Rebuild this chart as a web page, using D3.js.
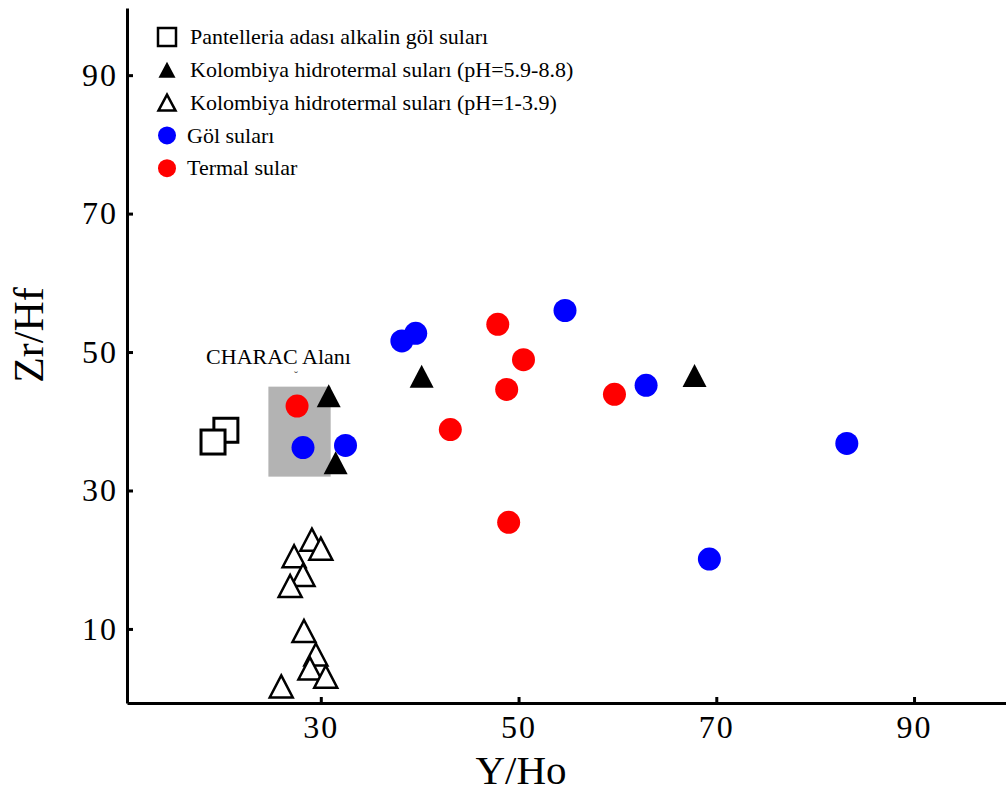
<!DOCTYPE html>
<html>
<head>
<meta charset="utf-8">
<script src="https://cdn.jsdelivr.net/npm/d3@7"></script>
<style>
  body { margin: 0; background: #fff; }
  text { font-family: "Liberation Serif", "Times New Roman", serif; }
</style>
</head>
<body>
<script>
var width = 1006;
var height = 794;

// data (Y/Ho, Zr/Hf)
var pantelleria = [[20.4, 38.7], [19.1, 37.0]];
var kolombiyaNotr = [[30.8, 43.7], [31.5, 34.0], [40.2, 46.5], [67.8, 46.6]];
var kolombiyaAsit = [
  [29.1, 22.9], [30.0, 21.6], [27.3, 20.5], [28.2, 17.8], [26.9, 16.2],
  [28.3, 9.7], [29.5, 6.3], [28.9, 4.3], [30.5, 3.1], [26.0, 1.7]
];
var golSulari = [
  [38.2, 51.6], [39.6, 52.7], [54.7, 56.0], [28.2, 36.2],
  [32.5, 36.5], [62.9, 45.2], [83.2, 36.8], [69.3, 20.1]
];
var termalSular = [
  [27.6, 42.2], [47.9, 54.0], [50.5, 48.9], [48.8, 44.6],
  [43.1, 38.8], [59.7, 43.9], [49.0, 25.4]
];
var characArea = {x0: 24.7, x1: 31.0, y0: 32.0, y1: 45.0};

var xTicks = [30, 50, 70, 90];
var yTicks = [10, 30, 50, 70, 90];

var legendLabels = [
  "Pantelleria adası alkalin göl suları",
  "Kolombiya hidrotermal suları (pH=5.9-8.8)",
  "Kolombiya hidrotermal suları (pH=1-3.9)",
  "Göl suları",
  "Termal sular"
];

var svg = d3.select("body").append("svg")
    .attr("width", width)
    .attr("height", height);

var x = d3.scaleLinear().domain([10.4, 99.3]).range([127, 1006]);
var y = d3.scaleLinear().domain([-0.7, 99.7]).range([703, 8]);

// triangle with its bounding box centred on 0,0
function triangle(w, h) {
    var p = d3.path();
    p.moveTo(0, -h / 2);
    p.lineTo(w / 2, h / 2);
    p.lineTo(-w / 2, h / 2);
    p.closePath();
    return p.toString();
}

// CHARAC area
svg.append("rect")
    .attr("x", x(characArea.x0))
    .attr("y", y(characArea.y1))
    .attr("width", x(characArea.x1) - x(characArea.x0))
    .attr("height", y(characArea.y0) - y(characArea.y1))
    .attr("fill", "#b3b3b3");

svg.append("text")
    .attr("x", x(18.4))
    .attr("y", y(48.3))
    .attr("font-size", "22px")
    .text("CHARAC Alanı");
svg.append("text")
    .attr("x", x(27.3))
    .attr("y", y(45.9))
    .attr("font-size", "12px")
    .attr("fill", "#666")
    .text("˘");

// squares (second one drawn first, it sits behind)
svg.selectAll("rect.sq")
    .data(pantelleria)
    .enter()
    .append("rect")
    .attr("class", "sq")
    .attr("x", d => x(d[0]) - 12)
    .attr("y", d => y(d[1]) - 12)
    .attr("width", 24)
    .attr("height", 24)
    .attr("fill", "white")
    .attr("stroke", "black")
    .attr("stroke-width", 3);

svg.selectAll("circle.gol")
    .data(golSulari)
    .enter()
    .append("circle")
    .attr("class", "gol")
    .attr("cx", d => x(d[0]))
    .attr("cy", d => y(d[1]))
    .attr("r", 11.5)
    .attr("fill", "#0000ff");

svg.selectAll("circle.termal")
    .data(termalSular)
    .enter()
    .append("circle")
    .attr("class", "termal")
    .attr("cx", d => x(d[0]))
    .attr("cy", d => y(d[1]))
    .attr("r", 11.5)
    .attr("fill", "#ff0000");

svg.selectAll("path.asit")
    .data(kolombiyaAsit)
    .enter()
    .append("path")
    .attr("class", "asit")
    .attr("d", triangle(23, 22))
    .attr("transform", d => "translate(" + x(d[0]) + "," + y(d[1]) + ")")
    .attr("fill", "white")
    .attr("stroke", "black")
    .attr("stroke-width", 2.5)
    .attr("stroke-linejoin", "miter");

svg.selectAll("path.notr")
    .data(kolombiyaNotr)
    .enter()
    .append("path")
    .attr("class", "notr")
    .attr("d", triangle(24, 23))
    .attr("transform", d => "translate(" + x(d[0]) + "," + y(d[1]) + ")")
    .attr("fill", "black");

// axes, ticks point inward
var xAxis = svg.append("g")
    .attr("transform", "translate(0," + y.range()[0] + ")")
    .call(d3.axisBottom(x).tickValues(xTicks).tickSizeInner(-6).tickSizeOuter(0).tickPadding(12));
var yAxis = svg.append("g")
    .attr("transform", "translate(" + x.range()[0] + ",0)")
    .call(d3.axisLeft(y).tickValues(yTicks).tickSizeInner(-6).tickSizeOuter(0).tickPadding(9));

[xAxis, yAxis].forEach(function(g) {
    g.select(".domain").attr("stroke", "black").attr("stroke-width", 3);
    g.selectAll(".tick line").attr("stroke", "black").attr("stroke-width", 3);
    g.selectAll(".tick text")
        .attr("fill", "black")
        .attr("font-family", "Liberation Serif, serif")
        .attr("font-size", "32px")
        .attr("letter-spacing", "2px");
});

svg.append("text")
    .attr("x", 521)
    .attr("y", 784)
    .attr("text-anchor", "middle")
    .attr("font-size", "41px")
    .text("Y/Ho");

svg.append("text")
    .attr("transform", "translate(43,335) rotate(-90)")
    .attr("text-anchor", "middle")
    .attr("font-size", "42px")
    .text("Zr/Hf");

// legend
var legend = svg.append("g").attr("transform", "translate(167,37)");
var rowGap = 32.8;
legend.selectAll("text")
    .data(legendLabels)
    .enter()
    .append("text")
    .attr("x", (d, i) => i < 3 ? 23 : 20)
    .attr("y", (d, i) => i * rowGap)
    .attr("dy", "0.33em")
    .attr("font-size", "22px")
    .text(d => d);

legend.append("rect")
    .attr("x", -9).attr("y", -9)
    .attr("width", 18).attr("height", 18)
    .attr("fill", "white").attr("stroke", "black").attr("stroke-width", 2.5);
legend.append("path")
    .attr("d", triangle(17, 16))
    .attr("transform", "translate(0," + rowGap + ")")
    .attr("fill", "black");
legend.append("path")
    .attr("d", triangle(17, 16))
    .attr("transform", "translate(0," + rowGap * 2 + ")")
    .attr("fill", "white").attr("stroke", "black").attr("stroke-width", 2.5);
legend.append("circle")
    .attr("cy", rowGap * 3).attr("r", 9).attr("fill", "#0000ff");
legend.append("circle")
    .attr("cy", rowGap * 4).attr("r", 9).attr("fill", "#ff0000");
</script>
</body>
</html>
